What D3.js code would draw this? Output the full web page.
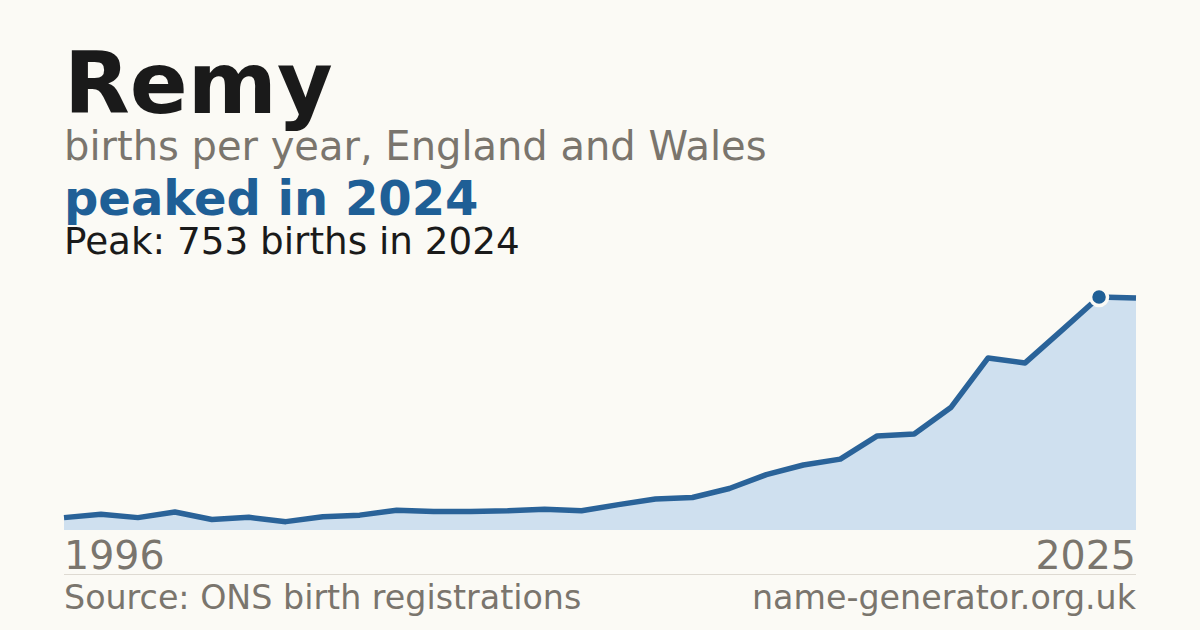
<!DOCTYPE html>
<html><head><meta charset="utf-8">
<script src="https://cdn.jsdelivr.net/npm/d3@7"></script>
<style>
html,body{margin:0;padding:0;background:#fbfaf5;}
svg{display:block;font-family:"DejaVu Sans",sans-serif;}
</style></head>
<body>
<svg id="c" width="1200" height="630"></svg>
<script>
const years = [1996,1997,1998,1999,2000,2001,2002,2003,2004,2005,2006,2007,2008,2009,2010,2011,2012,2013,2014,2015,2016,2017,2018,2019,2020,2021,2022,2023,2024,2025];
const births = [40,51,40,58,34,41,27,43,48,64,60,60,62,67,62,82,100,105,134,179,210,229,304,310,397,556,540,646,753,750];
const titleText = "Remy";
const subtitleText = "births per year, England and Wales";
const headlineText = "peaked in 2024";
const peakText = "Peak: 753 births in 2024";
const sourceText = "Source: ONS birth registrations";
const siteText = "name-generator.org.uk";

const data = years.map((y,i)=>({year:y, value:births[i]}));
const svg = d3.select("#c");
svg.append("rect").attr("width",1200).attr("height",630).attr("fill","#fbfaf5");

const x = d3.scaleLinear().domain(d3.extent(years)).range([64,1136]);
const y = d3.scaleLinear().domain([0, d3.max(births)]).range([530, 297]);

svg.append("path").datum(data)
  .attr("d", d3.area().x(d=>x(d.year)).y0(y(0)).y1(d=>y(d.value)))
  .attr("fill","#cfe0ef");
svg.append("path").datum(data)
  .attr("d", d3.line().x(d=>x(d.year)).y(d=>y(d.value)))
  .attr("fill","none").attr("stroke","#2a6399").attr("stroke-width",5.5)
  .attr("stroke-linejoin","round");

const peak = data.reduce((a,b)=>b.value>a.value?b:a);
svg.append("circle").attr("cx",x(peak.year)).attr("cy",y(peak.value)).attr("r",8.5)
  .attr("fill","#1f5f96").attr("stroke","#fbfaf5").attr("stroke-width",3.5);

// texts
svg.append("text").attr("x",64).attr("y",113).text(titleText)
  .attr("font-size",85.5).attr("font-weight","bold").attr("fill","#1a1a1a");
svg.append("text").attr("x",64).attr("y",160).text(subtitleText)
  .attr("font-size",40).attr("fill","#7a756d");
svg.append("text").attr("x",64).attr("y",215).text(headlineText)
  .attr("font-size",48).attr("font-weight","bold").attr("fill","#1f5f96");
svg.append("text").attr("x",64).attr("y",254).text(peakText)
  .attr("font-size",37.3).attr("fill","#1a1a1a");

svg.append("text").attr("x",x(years[0])).attr("y",569).text(years[0])
  .attr("font-size",39.5).attr("fill","#7a756d");
svg.append("text").attr("x",x(years[years.length-1])).attr("y",569).attr("text-anchor","end").text(years[years.length-1])
  .attr("font-size",39.5).attr("fill","#7a756d");

svg.append("line").attr("x1",64).attr("x2",1136).attr("y1",574.5).attr("y2",574.5)
  .attr("stroke","#dedad2").attr("stroke-width",1);

svg.append("text").attr("x",64).attr("y",609).text(sourceText)
  .attr("font-size",33.3).attr("fill","#7a756d");
svg.append("text").attr("x",1136).attr("y",609).attr("text-anchor","end").text(siteText)
  .attr("font-size",33.3).attr("fill","#7a756d");
</script>
</body></html>
